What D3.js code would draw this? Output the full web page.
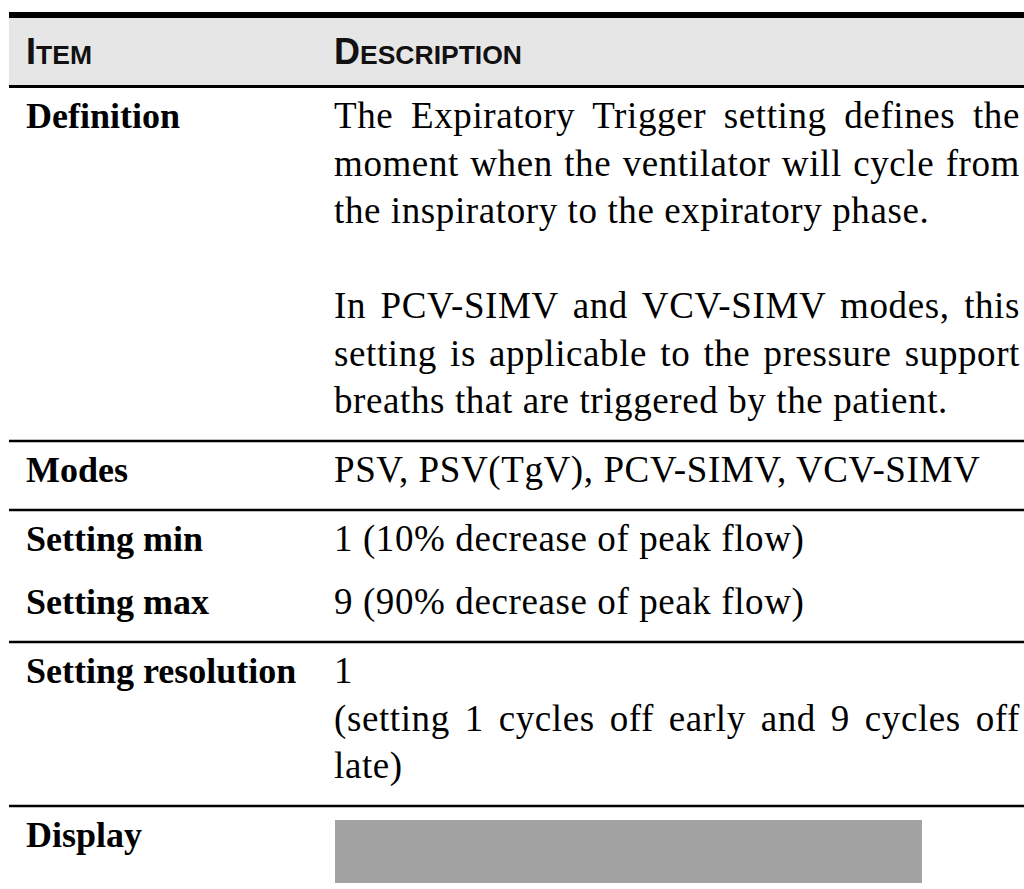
<!DOCTYPE html>
<html><head><meta charset="utf-8">
<script src="https://cdn.jsdelivr.net/npm/d3@7"></script>
<style>html,body{margin:0;padding:0;background:#fff;overflow:hidden}svg{display:block}</style>
</head><body>
<script>
// ---- data ----
const headers = ["Item", "Description"];
const items = ["Definition", "Modes", "Setting min", "Setting max", "Setting resolution", "Display"];
const descriptions = [
  [["The Expiratory Trigger setting defines the",
    "moment when the ventilator will cycle from",
    "the inspiratory to the expiratory phase."],
   [""],
   ["In PCV-SIMV and VCV-SIMV modes, this",
    "setting is applicable to the pressure support",
    "breaths that are triggered by the patient."]],
  [["PSV, PSV(TgV), PCV-SIMV, VCV-SIMV"]],
  [["1 (10% decrease of peak flow)"]],
  [["9 (90% decrease of peak flow)"]],
  [["1"], ["(setting 1 cycles off early and 9 cycles off", "late)"]],
  []
];
const ruleBelow = [true, true, false, true, true, false];
const displayBox = [5]; // rows that show the grey display box

// ---- layout ----
const W = 1024, H = 889;
const x0 = 9, col1 = 26, col2 = 334, col2R = 1020;
const lineH = 47.5, padTop = 40, padBot = 28, padBotNoRule = 23;
const serif = "'Liberation Serif','Times New Roman',serif";
const sans = "'Liberation Sans',Arial,sans-serif";

const svg = d3.select("body").append("svg").attr("width", W).attr("height", H);

// header band
svg.append("rect").attr("x", x0).attr("y", 18).attr("width", W - x0).attr("height", 68).attr("fill", "#e6e6e6");
svg.append("line").attr("x1", x0).attr("x2", W).attr("y1", 15).attr("y2", 15).attr("stroke", "#000").attr("stroke-width", 6);
svg.append("line").attr("x1", x0).attr("x2", W).attr("y1", 86.5).attr("y2", 86.5).attr("stroke", "#000").attr("stroke-width", 3);

const hx = d3.scaleOrdinal().domain(headers).range([col1, col2]);
headers.forEach(h => {
  const t = svg.append("text").attr("x", hx(h)).attr("y", 63.5)
    .attr("font-family", sans).attr("font-weight", "bold").attr("fill", "#111");
  t.append("tspan").attr("font-size", 36).text(h[0].toUpperCase());
  t.append("tspan").attr("font-size", 26.5).text(h.slice(1).toUpperCase());
});

// rows
let rowTop = 88;
items.forEach((item, i) => {
  const g = svg.append("g");
  const base = rowTop + padTop;
  g.append("text").attr("x", col1).attr("y", base)
    .attr("font-family", serif).attr("font-weight", "bold").attr("font-size", 36).attr("fill", "#000")
    .text(item);
  let n = 0;
  const paras = descriptions[i];
  paras.forEach(p => {
    p.forEach((ln, k) => {
      const y = base + n * lineH;
      n++;
      if (!ln) return;
      const t = g.append("text").attr("x", col2).attr("y", y)
        .attr("font-family", serif).attr("font-size", 37).attr("letter-spacing", 0.6)
        .attr("fill", "#000").text(ln);
      if (k < p.length - 1) {
        const w = t.node().getComputedTextLength();
        const spaces = (ln.match(/ /g) || []).length;
        if (spaces) t.attr("word-spacing", (col2R - col2 - w) / spaces);
      }
    });
  });
  if (displayBox.includes(i)) {
    g.append("rect").attr("x", col2 + 1).attr("y", rowTop + 13).attr("width", 587).attr("height", 63).attr("fill", "#a3a3a3");
  }
  const last = base + Math.max(n - 1, 0) * lineH;
  const bottom = last + (ruleBelow[i] ? padBot : padBotNoRule);
  if (ruleBelow[i]) {
    svg.append("line").attr("x1", x0).attr("x2", W).attr("y1", bottom).attr("y2", bottom)
      .attr("stroke", "#000").attr("stroke-width", 2.5);
  }
  rowTop = bottom + (ruleBelow[i] ? 1 : 0);
});
</script>
</body></html>
